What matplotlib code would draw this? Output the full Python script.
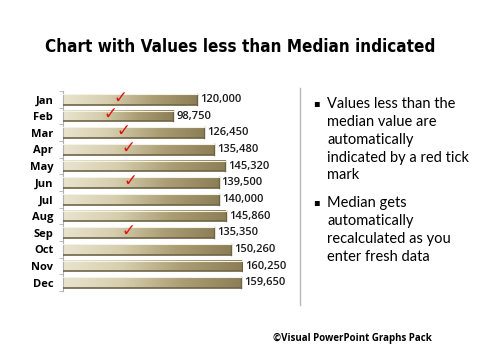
import numpy as np
import matplotlib
matplotlib.use("Agg")
import matplotlib.pyplot as plt
from matplotlib.colors import LinearSegmentedColormap

months = ["Jan", "Feb", "Mar", "Apr", "May", "Jun",
          "Jul", "Aug", "Sep", "Oct", "Nov", "Dec"]
sales = [120000, 98750, 126450, 135480, 145320, 139500,
         140000, 145860, 135350, 150260, 160250, 159650]

bullets = ["Values less than the\nmedian value are\nautomatically\nindicated by a red tick\nmark",
           "Median gets\nautomatically\nrecalculated as you\nenter fresh data"]

median = np.median(sales)

fig = plt.figure(figsize=(4.8, 3.6), dpi=100)
fig.patch.set_facecolor("white")

# axes placed in pixel terms: x 63..243, y 91..291 (from top)
W, H = 480.0, 360.0
ax = fig.add_axes([63 / W, 1 - 291 / H, 180 / W, 200 / H])
ax.set_xlim(0, 161150)
ax.set_ylim(len(months) - 0.5, -0.5)

cmap = LinearSegmentedColormap.from_list("gold", ["#e9e4cf", "#d6ceae", "#ab9e74", "#8c7e56"])
grad = np.linspace(0, 1, 256).reshape(1, -1)
bh = 0.64
for i, v in enumerate(sales):
    ax.imshow(grad, aspect="auto", cmap=cmap,
              extent=[0, v, i + bh / 2, i - bh / 2], zorder=2)
    # shadow at bottom / top highlight
    ax.plot([0, v], [i + bh / 2, i + bh / 2], color="#6e6446", lw=1.2, zorder=3)
    ax.plot([v, v], [i - bh / 2, i + bh / 2], color="#6e6446", lw=1.0, zorder=3)
    ax.plot([0, v], [i - bh / 2, i - bh / 2], color="#f4f1e6", lw=0.8, zorder=3)
    ax.text(v + 2500, i, f"{v:,}", va="center", ha="left", fontsize=8,
            fontweight="semibold", color="#1a1a1a", family="Open Sans", clip_on=False)
    if v < median:
        ax.text(v * 0.43, i - 0.1, "\u2713", color="#e01010", fontsize=12,
                fontweight="bold", ha="center", va="center",
                family="DejaVu Sans", zorder=4)

ax.set_yticks(np.arange(len(months)))
ax.set_yticklabels(months, fontsize=8, fontweight="bold", family="Open Sans")
ax.set_yticks(np.arange(len(months) + 1) - 0.5, minor=True)
ax.tick_params(axis="y", which="major", length=0, pad=7)
ax.tick_params(axis="y", which="minor", length=3, color="#b0b0b0")
ax.set_xticks([])
for s in ["top", "right", "bottom"]:
    ax.spines[s].set_visible(False)
ax.spines["left"].set_color("#b0b0b0")
ax.spines["left"].set_linewidth(0.8)

title = fig.text(0.5, 1 - 47 / H, "Chart with Values less than Median indicated",
                 ha="center", va="center", fontsize=15, fontweight="bold",
                 fontstretch="condensed",
                 family=["Liberation Sans Narrow", "DejaVu Sans"])
# shrink title until it fits the same width as the reference (~392 px)
r = fig.canvas.get_renderer()
for _ in range(20):
    w = title.get_window_extent(r).width
    if w <= 394:
        break
    title.set_fontsize(title.get_fontsize() * 392 / w)

# separator line
fig.add_artist(plt.Line2D([300 / W, 300 / W], [1 - 88 / H, 1 - 305 / H],
                          color="#b8b8b8", lw=1))

ytop = 105
for b in bullets:
    n = b.count("\n") + 1
    fig.text(313 / W, 1 - (ytop - 2) / H, "\u25aa", ha="left", va="center",
             fontsize=7, family="DejaVu Sans")
    fig.text(327 / W, 1 - (ytop - 8) / H, b, ha="left", va="top", fontsize=10.5,
             family="Lato", linespacing=1.35)
    ytop += n * 19 + 4

fig.text(432 / W, 1 - 338 / H, "\u00a9Visual PowerPoint Graphs Pack",
         ha="right", va="center", fontsize=7, fontweight="bold", family="Open Sans")

fig.savefig("out.png", dpi=100)
